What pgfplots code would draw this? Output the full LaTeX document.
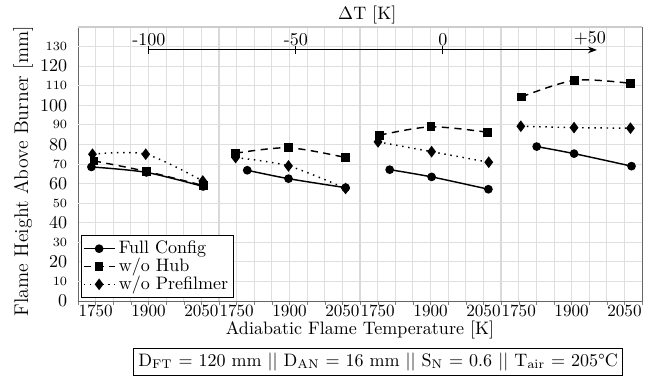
\documentclass[border=0pt]{standalone}
\usepackage{pgfplots}
\pgfplotsset{compat=1.18}
\usepackage{pgfplotstable}
\usetikzlibrary{arrows.meta}

% one table per ΔT group: T = adiabatic flame temperature [K], H = flame height [mm]
\pgfplotstableread{
Tf Hf Th Hh Tp Hp
1738 68.5 1745 71.6 1741 75.0
1894 65.7 1894 66.2 1892 75.0
2055 58.5 2055 59.0 2054 61.3
}\pA
\pgfplotstableread{
Tf Hf Th Hh Tp Hp
1780 66.8 1747 75.5 1747 73.3
1897 62.5 1897 78.3 1897 69.0
2059 57.9 2059 73.3 2059 57.5
}\pB
\pgfplotstableread{
Tf Hf Th Hh Tp Hp
1784 67.1 1755 84.7 1751 81.3
1903 63.4 1901 89.0 1903 76.3
2064 57.1 2062 86.2 2065 70.9
}\pC
\pgfplotstableread{
Tf Hf Th Hh Tp Hp
1801 78.9 1758 104.3 1756 89.3
1907 75.3 1909 112.8 1907 88.6
2070 68.9 2068 111.2 2067 88.3
}\pD

\pgfplotsset{
  fullst/.style={black, line width=0.8pt, mark=*, mark size=2pt, smooth},
  hubst/.style={black, line width=0.8pt, dash pattern=on 4pt off 3pt, mark=square*, mark size=2pt, mark options={solid}, smooth},
  prest/.style={black, line width=0.8pt, dash pattern=on 0.8pt off 2.6pt, mark=diamond*, mark size=2.6pt, mark options={solid}, smooth},
}

\begin{document}
\begin{tikzpicture}
\begin{axis}[
  scale only axis, width=313pt, height=152pt,
  clip=false,
  xmin=0, xmax=1600, ymin=0, ymax=140,
  xtick={50,200,350,450,600,750,850,1000,1150,1250,1400,1550},
  xticklabels={1750,1900,2050,1750,1900,2050,1750,1900,2050,1750,1900,2050},
  minor xtick={0,50,...,1600},
  extra x ticks={400,800,1200},
  extra x tick labels={},
  extra x tick style={grid=major, major grid style={gray!30, line width=1.4pt}, major tick length=0pt},
  ytick={0,20,...,120},
  extra y ticks={10,30,...,130},
  extra y tick style={grid=major, tick label style={font=\scriptsize}},
  xmajorgrids, xminorgrids, ymajorgrids,
  grid style={gray!25, line width=0.5pt},
  tick align=outside, major tick length=2.5pt, minor tick length=2pt,
  xtick pos=lower, ytick pos=left,
  ytick style={draw=none},
  xticklabel style={yshift=4pt, font=\fontsize{9.5}{11}\selectfont},
  axis line style={black!60},
  title={$\Delta$T [K]},
  title style={yshift=-8pt, xshift=4pt},
  xlabel={Adiabatic Flame Temperature [K]},
  xlabel style={yshift=7pt},
  ylabel={Flame Height Above Burner [mm]},
  ylabel style={font=\fontsize{11}{13}\selectfont, yshift=-8pt, xshift=-4pt},
  legend style={at={(rel axis cs:0.005,0.01)}, anchor=south west, draw=black, inner sep=1pt, row sep=-3pt, font=\normalsize, cells={anchor=west}},
]
\addplot[fullst] table[x expr=\thisrow{Tf}-1700, y=Hf]{\pA};
\addlegendentry{Full Config}
\addplot[hubst] table[x expr=\thisrow{Th}-1700, y=Hh]{\pA};
\addlegendentry{w/o Hub}
\addplot[prest] table[x expr=\thisrow{Tp}-1700, y=Hp]{\pA};
\addlegendentry{w/o Prefilmer}

\addplot[fullst, forget plot] table[x expr=\thisrow{Tf}-1300, y=Hf]{\pB};
\addplot[hubst, forget plot] table[x expr=\thisrow{Th}-1300, y=Hh]{\pB};
\addplot[prest, forget plot] table[x expr=\thisrow{Tp}-1300, y=Hp]{\pB};

\addplot[fullst, forget plot] table[x expr=\thisrow{Tf}-900, y=Hf]{\pC};
\addplot[hubst, forget plot] table[x expr=\thisrow{Th}-900, y=Hh]{\pC};
\addplot[prest, forget plot] table[x expr=\thisrow{Tp}-900, y=Hp]{\pC};

\addplot[fullst, forget plot] table[x expr=\thisrow{Tf}-500, y=Hf]{\pD};
\addplot[hubst, forget plot] table[x expr=\thisrow{Th}-500, y=Hh]{\pD};
\addplot[prest, forget plot] table[x expr=\thisrow{Tp}-500, y=Hp]{\pD};

% light top frame line
\draw[gray!40, line width=0.6pt] (rel axis cs:0,1) -- (rel axis cs:1,1);

% ΔT arrow
\draw[black, line width=0.6pt, -{Stealth[length=5pt]}] (axis cs:201,128.3) -- (axis cs:1472,128.3);
\draw[black, line width=0.6pt] (axis cs:201,126.3) -- (axis cs:201,130.3);
\draw[black, line width=0.6pt] (axis cs:618,126.3) -- (axis cs:618,130.3);
\draw[black, line width=0.6pt] (axis cs:1035,126.3) -- (axis cs:1035,130.3);
\node[anchor=south, inner sep=1pt] at (axis cs:201,129.5) {-100};
\node[anchor=south, inner sep=1pt] at (axis cs:618,129.5) {-50};
\node[anchor=south, inner sep=1pt] at (axis cs:1035,129.5) {0};
\node[anchor=south, inner sep=1pt] at (axis cs:1452,129.5) {+50};

\node[draw=black, fill=white, anchor=north, inner sep=2.5pt] at (rel axis cs:0.532,0) [yshift=-26pt]
  {D$_{\mathrm{FT}}$ = 120 mm || D$_{\mathrm{AN}}$ = 16 mm || S$_{\mathrm{N}}$ = 0.6 || T$_{\mathrm{air}}$ = 205°C};
\end{axis}
\pgfresetboundingbox
\path[use as bounding box] ([xshift=-43.3pt, yshift=-45pt]current axis.south west) rectangle ([xshift=5.5pt, yshift=15pt]current axis.north east);
\end{tikzpicture}
\end{document}
